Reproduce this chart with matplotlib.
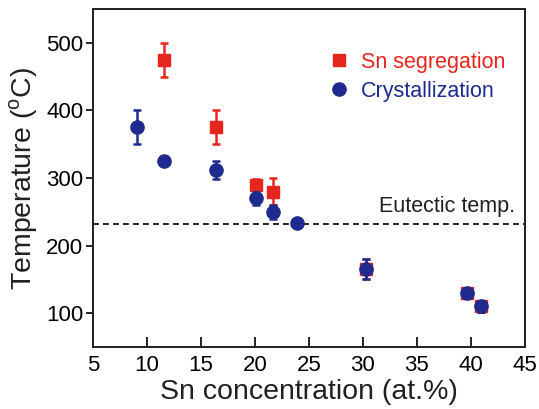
import matplotlib
matplotlib.use("Agg")
from matplotlib import pyplot as plt
from matplotlib.lines import Line2D

plt.rcParams['font.family'] = ['Liberation Sans', 'DejaVu Sans']
plt.rcParams['mathtext.fontset'] = 'custom'
plt.rcParams['mathtext.rm'] = 'Liberation Sans'

# Sn segregation (red squares)
seg_x = [11.6, 16.4, 20.1, 21.7, 30.3, 39.6, 40.9]
seg_y = [475, 375, 290, 280, 165, 130, 110]
seg_err = [25, 25, 8, 20, 15, 8, 8]

# Crystallization (blue circles)
cry_x = [9.1, 11.6, 16.4, 20.1, 21.7, 23.9, 30.3, 39.6, 40.9]
cry_y = [375, 325, 312, 270, 250, 234, 165, 130, 110]
cry_err = [25, 0, 13, 10, 10, 0, 15, 8, 8]

eutectic = 232

red = '#e5261f'
blue = '#1e2a8e'

fig = plt.figure(figsize=(5.39, 4.09), dpi=100)
ax = fig.add_axes([0.1725, 0.1516, 0.8015, 0.8264])

ax.axhline(eutectic, color='black', ls=(0, (3.5, 2.5)), lw=1.2, zorder=1)
ax.text(44.1, eutectic + 10, 'Eutectic temp.', ha='right', va='bottom',
        fontsize=15.5, color='#231f20')

ax.errorbar(seg_x, seg_y, yerr=seg_err, fmt='s', color=red, ms=9,
            capsize=3, elinewidth=1.8, capthick=1.8, zorder=2)
ax.errorbar(cry_x, cry_y, yerr=cry_err, fmt='o', color=blue, ms=9.5,
            capsize=3, elinewidth=1.8, capthick=1.8, zorder=3)

ax.set_xlim(5, 45)
ax.set_ylim(50, 550)
ax.set_xticks(range(5, 46, 5))
ax.set_yticks([100, 200, 300, 400, 500])
ax.tick_params(axis='x', direction='in', length=7, width=1.2, labelsize=16, pad=6)
ax.tick_params(axis='y', direction='out', length=5, width=1.2, labelsize=16, pad=2)
for s in ax.spines.values():
    s.set_linewidth(1.4)
    s.set_color('#231f20')

ax.set_xlabel('Sn concentration (at.%)', fontsize=20.5, labelpad=2, color='#231f20')
ax.set_ylabel(r'Temperature ($^{\rm o}$C)', fontsize=20.5, labelpad=4, color='#231f20')

handles = [Line2D([], [], marker='s', ls='', color=red, ms=9),
           Line2D([], [], marker='o', ls='', color=blue, ms=9.5)]
leg = ax.legend(handles, ['Sn segregation', 'Crystallization'],
                loc='upper left', bbox_to_anchor=(0.505, 0.93), frameon=False,
                fontsize=15.5, handlelength=0.8, handletextpad=0.6,
                labelspacing=0.35, labelcolor=[red, blue])

fig.savefig('out.png', dpi=100)
